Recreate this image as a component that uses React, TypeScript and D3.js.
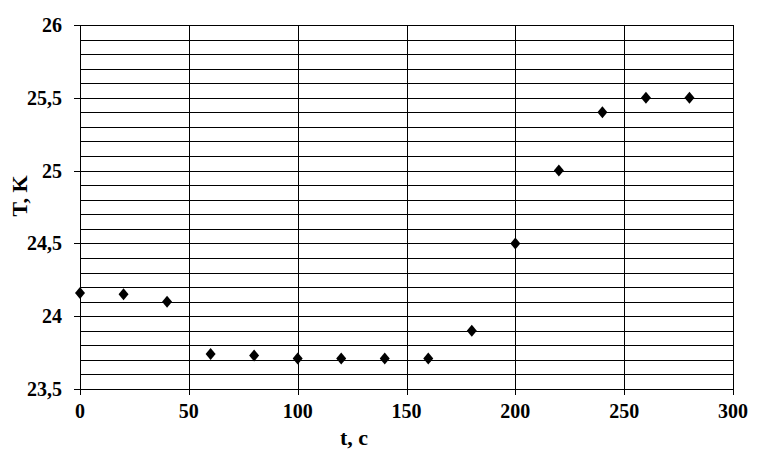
import { useEffect, useRef } from "react";
import * as d3 from "d3";

// time, s
const times = [0, 20, 40, 60, 80, 100, 120, 140, 160, 180, 200, 220, 240, 260, 280];
// temperature, K
const temps = [24.16, 24.15, 24.1, 23.74, 23.73, 23.71, 23.71, 23.71, 23.71, 23.9, 24.5, 25.0, 25.4, 25.5, 25.5];
const xTicks = [0, 50, 100, 150, 200, 250, 300];
const yTicks = [23.5, 24, 24.5, 25, 25.5, 26];

const fmt = (v: number) => String(v).replace(".", ",");

export default function App() {
  const svgRef = useRef<SVGSVGElement | null>(null);

  useEffect(() => {
    if (!svgRef.current) return;
    const width = 757;
    const height = 461;
    const left = 80;
    const right = 733;
    const top = 25;
    const bottom = 389;
    const font = "Liberation Serif";

    const svg = d3.select(svgRef.current);
    svg.selectAll("*").remove();
    svg.attr("width", width).attr("height", height).attr("viewBox", `0 0 ${width} ${height}`);

    const x = d3.scaleLinear().domain([0, 300]).range([left, right]);
    const y = d3.scaleLinear().domain([23.5, 26]).range([bottom, top]);

    const g = svg.append("g").attr("shape-rendering", "crispEdges");

    // horizontal grid every 0.1
    const minor = d3.range(0, 26).map((i) => 23.5 + i * 0.1);
    g.selectAll(".hg")
      .data(minor)
      .enter()
      .append("line")
      .attr("x1", left)
      .attr("x2", right)
      .attr("y1", (d) => Math.round(y(d)) + 0.5)
      .attr("y2", (d) => Math.round(y(d)) + 0.5)
      .attr("stroke", "#000")
      .attr("stroke-width", 1);

    // vertical grid lines
    g.selectAll(".vg")
      .data(xTicks)
      .enter()
      .append("line")
      .attr("x1", (d) => Math.round(x(d)) + 0.5)
      .attr("x2", (d) => Math.round(x(d)) + 0.5)
      .attr("y1", top)
      .attr("y2", bottom + 6)
      .attr("stroke", "#000")
      .attr("stroke-width", 1);

    // y tick marks
    g.selectAll(".yt")
      .data(yTicks)
      .enter()
      .append("line")
      .attr("x1", left - 6)
      .attr("x2", left)
      .attr("y1", (d) => Math.round(y(d)) + 0.5)
      .attr("y2", (d) => Math.round(y(d)) + 0.5)
      .attr("stroke", "#000");

    // y labels
    svg
      .selectAll(".yl")
      .data(yTicks)
      .enter()
      .append("text")
      .attr("x", 62)
      .attr("y", (d) => y(d) + 7)
      .attr("text-anchor", "end")
      .style("font-family", font)
      .style("font-weight", "bold")
      .style("font-size", "20px")
      .text(fmt);

    // x labels
    svg
      .selectAll(".xl")
      .data(xTicks)
      .enter()
      .append("text")
      .attr("x", (d) => x(d))
      .attr("y", 418)
      .attr("text-anchor", "middle")
      .style("font-family", font)
      .style("font-weight", "bold")
      .style("font-size", "20px")
      .text((d) => String(d));

    // axis titles
    svg
      .append("text")
      .attr("x", 354)
      .attr("y", 445)
      .attr("text-anchor", "middle")
      .style("font-family", font)
      .style("font-weight", "bold")
      .style("font-size", "22px")
      .text("t, c");

    svg
      .append("text")
      .attr("transform", "translate(27, 196) rotate(-90)")
      .attr("text-anchor", "middle")
      .style("font-family", font)
      .style("font-weight", "bold")
      .style("font-size", "22px")
      .text("T, K");

    // diamond markers
    const diamond = "M0,-6L5,0L0,6L-5,0Z";
    svg
      .selectAll(".pt")
      .data(times.map((t, i) => ({ t, v: temps[i] })))
      .enter()
      .append("path")
      .attr("d", diamond)
      .attr("transform", (d) => `translate(${x(d.t)}, ${y(d.v)})`)
      .attr("fill", "#000");
  }, []);

  return <svg ref={svgRef} style={{ display: "block", position: "absolute", left: 0, top: 0 }}></svg>;
}
